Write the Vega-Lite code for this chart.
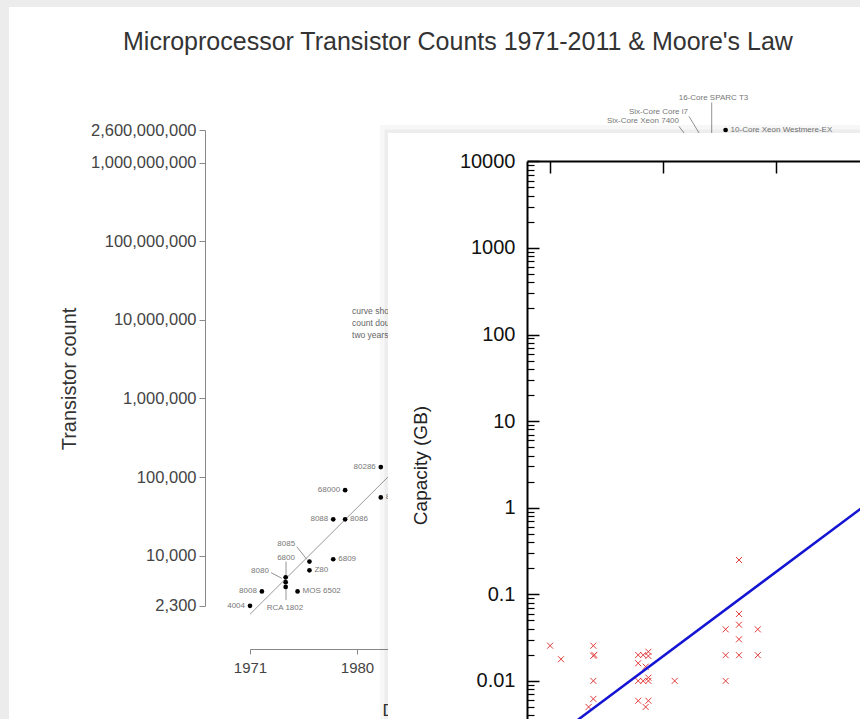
{
  "$schema": "https://vega.github.io/schema/vega-lite/v6.json",
  "width": 851,
  "height": 712,
  "autosize": {"type": "none"},
  "padding": {"left": 9, "top": 7, "right": 0, "bottom": 0},
  "background": "#ececec",
  "config": {
    "view": {"stroke": null, "fill": "#ffffff"},
    "font": "Liberation Sans",
    "axis": {"grid": false}
  },
  "title": {
    "text": "Microprocessor Transistor Counts 1971-2011 & Moore's Law",
    "anchor": "start",
    "frame": "group",
    "fontSize": 25,
    "fontWeight": "normal",
    "color": "#333333",
    "font": "Liberation Sans",
    "baseline": "alphabetic",
    "offset": 0,
    "dx": 114,
    "dy": 68
  },
  "datasets": {
    "chips": [
      {"year": 1971, "count": 2300, "name": "4004", "side": "left"},
      {"year": 1972, "count": 3500, "name": "8008", "side": "left"},
      {"year": 1974, "count": 4000, "name": "", "side": "none"},
      {"year": 1974, "count": 4600, "name": "", "side": "none"},
      {"year": 1974, "count": 5300, "name": "", "side": "none"},
      {"year": 1975, "count": 3500, "name": "MOS 6502", "side": "right"},
      {"year": 1976, "count": 8400, "name": "8085", "side": "none"},
      {"year": 1976, "count": 6500, "name": "Z80", "side": "right"},
      {"year": 1978, "count": 9000, "name": "6809", "side": "right"},
      {"year": 1978, "count": 29000, "name": "8088", "side": "left"},
      {"year": 1979, "count": 29000, "name": "8086", "side": "right"},
      {"year": 1979, "count": 68000, "name": "68000", "side": "left"},
      {"year": 1982, "count": 134000, "name": "80286", "side": "left"},
      {"year": 1982, "count": 55000, "name": "80186", "side": "right"},
      {"year": 1985, "count": 275000, "name": "80386", "side": "left"},
      {"year": 2008, "count": 1900000000, "name": "Six-Core Xeon 7400", "side": "none"},
      {"year": 2010, "count": 1170000000, "name": "Six-Core Core i7", "side": "none"},
      {"year": 2010, "count": 1000000000, "name": "16-Core SPARC T3", "side": "none"},
      {"year": 2011, "count": 2600000000, "name": "10-Core Xeon Westmere-EX", "side": "right"}
    ],
    "callouts": [
      {"year": 1974.05, "count": 14100, "name": "8085", "align": "center"},
      {"year": 1974.03, "count": 9400, "name": "6800", "align": "center"},
      {"year": 1971.84, "count": 6400, "name": "8080", "align": "center"},
      {"year": 1973.94, "count": 2160, "name": "RCA 1802", "align": "center"},
      {"year": 2009.98, "count": 6580000000, "name": "16-Core SPARC T3", "align": "center"},
      {"year": 2007.84, "count": 4370000000, "name": "Six-Core Core i7", "align": "right"},
      {"year": 2007.08, "count": 3340000000, "name": "Six-Core Xeon 7400", "align": "right"}
    ],
    "leaders": [
      {"year": 1974.93, "count": 13000, "year2": 1975.77, "count2": 9000},
      {"year": 1974.03, "count": 8400, "year2": 1974.03, "count2": 5400},
      {"year": 1972.77, "count": 6080, "year2": 1973.67, "count2": 5150},
      {"year": 1974.03, "count": 4030, "year2": 1974.03, "count2": 2730},
      {"year": 2009.83, "count": 5830000000, "year2": 2009.83, "count2": 1000000000},
      {"year": 2007.92, "count": 3880000000, "year2": 2010, "count2": 1170000000},
      {"year": 2007.08, "count": 2890000000, "year2": 2008, "count2": 1900000000}
    ],
    "trend": [
      {"year": 1971, "count": 1795},
      {"year": 2011, "count": 1880000000}
    ],
    "note": [
      {"year": 1979.58, "count": 14700000, "text": "curve shows transistor\ncount doubling every\ntwo years"}
    ],
    "panel": [
      {"t": 1977.86, "gb": 21230, "t2": 2001, "gb2": 0.0005}
    ],
    "fit": [
      {"t": 1984.5, "gb": 0.00162},
      {"t": 2000, "gb": 1.72}
    ],
    "drives": [
      {"t": 1985.02, "gb": 0.0255},
      {"t": 1985.5, "gb": 0.0178},
      {"t": 1986.93, "gb": 0.0255},
      {"t": 1986.93, "gb": 0.0195},
      {"t": 1986.97, "gb": 0.02},
      {"t": 1986.93, "gb": 0.01},
      {"t": 1986.93, "gb": 0.0062},
      {"t": 1986.72, "gb": 0.005},
      {"t": 1988.91, "gb": 0.0199},
      {"t": 1989.13, "gb": 0.0199},
      {"t": 1989.36, "gb": 0.0217},
      {"t": 1989.36, "gb": 0.0194},
      {"t": 1988.91, "gb": 0.016},
      {"t": 1989.24, "gb": 0.0146},
      {"t": 1988.91, "gb": 0.01},
      {"t": 1989.13, "gb": 0.01},
      {"t": 1989.36, "gb": 0.0109},
      {"t": 1989.36, "gb": 0.01},
      {"t": 1988.91, "gb": 0.0059},
      {"t": 1989.36, "gb": 0.0059},
      {"t": 1989.24, "gb": 0.005},
      {"t": 1990.52, "gb": 0.01},
      {"t": 1992.77, "gb": 0.0394},
      {"t": 1992.77, "gb": 0.0198},
      {"t": 1992.77, "gb": 0.01},
      {"t": 1993.36, "gb": 0.249},
      {"t": 1993.36, "gb": 0.0593},
      {"t": 1993.36, "gb": 0.0446},
      {"t": 1993.36, "gb": 0.0302},
      {"t": 1993.36, "gb": 0.0198},
      {"t": 1994.19, "gb": 0.0394},
      {"t": 1994.19, "gb": 0.0198}
    ]
  },
  "layer": [
    {
      "encoding": {
        "x": {
          "field": "year",
          "type": "quantitative",
          "scale": {"domain": [1971, 2011], "range": [241, 716.6], "nice": false, "zero": false},
          "axis": {
            "orient": "bottom",
            "offset": -70,
            "values": [1971, 1980, 1990, 2000, 2011],
            "format": "d",
            "domainColor": "#888888",
            "tickColor": "#888888",
            "tickSize": 5,
            "labelFontSize": 15,
            "labelColor": "#444444",
            "labelPadding": 6,
            "labelFlush": false,
            "labelOverlap": false,
            "title": "Date of introduction",
            "titleFontSize": 17,
            "titleFontWeight": "normal",
            "titleColor": "#333333",
            "titleX": 373,
            "titleY": 61,
            "titleAlign": "left",
            "titleBaseline": "middle",
            "zindex": 0
          }
        },
        "y": {
          "field": "count",
          "type": "quantitative",
          "scale": {"type": "log", "domain": [2300, 2600000000], "range": [598.8, 123], "nice": false},
          "axis": {
            "orient": "left",
            "offset": -196,
            "values": [2300, 10000, 100000, 1000000, 10000000, 100000000, 1000000000, 2600000000],
            "format": ",",
            "domainColor": "#888888",
            "tickColor": "#888888",
            "tickSize": 6,
            "labelPadding": 3,
            "labelFontSize": 16.5,
            "labelColor": "#444444",
            "labelFlush": false,
            "labelOverlap": false,
            "title": "Transistor count",
            "titleFontSize": 20,
            "titleFontWeight": "normal",
            "titleColor": "#333333",
            "titleX": -136,
            "titleY": 371.5,
            "titleAngle": 270,
            "titleAlign": "center",
            "titleBaseline": "middle",
            "zindex": 0
          }
        }
      },
      "layer": [
        {"data": {"name": "trend"}, "mark": {"type": "line", "color": "#999999", "strokeWidth": 1}},
        {
          "data": {"name": "leaders"},
          "mark": {"type": "rule", "color": "#777777", "strokeWidth": 0.8},
          "encoding": {"x2": {"field": "year2"}, "y2": {"field": "count2"}}
        },
        {"data": {"name": "chips"}, "mark": {"type": "circle", "color": "#000000", "opacity": 1, "size": 22}},
        {
          "data": {"name": "chips"},
          "transform": [{"filter": "datum.side === 'left'"}],
          "mark": {"type": "text", "align": "right", "baseline": "middle", "dx": -5, "fontSize": 8, "color": "#777777"},
          "encoding": {"text": {"field": "name"}}
        },
        {
          "data": {"name": "chips"},
          "transform": [{"filter": "datum.side === 'right'"}],
          "mark": {"type": "text", "align": "left", "baseline": "middle", "dx": 5, "fontSize": 8, "color": "#777777"},
          "encoding": {"text": {"field": "name"}}
        },
        {
          "data": {"name": "callouts"},
          "transform": [{"filter": "datum.align === 'center'"}],
          "mark": {"type": "text", "align": "center", "baseline": "middle", "fontSize": 8, "color": "#777777"},
          "encoding": {"text": {"field": "name"}}
        },
        {
          "data": {"name": "callouts"},
          "transform": [{"filter": "datum.align === 'right'"}],
          "mark": {"type": "text", "align": "right", "baseline": "middle", "fontSize": 8, "color": "#777777"},
          "encoding": {"text": {"field": "name"}}
        },
        {
          "data": {"name": "note"},
          "mark": {"type": "text", "align": "left", "baseline": "top", "fontSize": 8.5, "lineHeight": 12, "lineBreak": "\n", "color": "#666666"},
          "encoding": {"text": {"field": "text"}}
        }
      ]
    },
    {
      "encoding": {
        "x": {
          "field": "t",
          "type": "quantitative",
          "scale": {"domain": [1984, 2000], "range": [518, 880.4], "nice": false, "zero": false},
          "axis": {
            "orient": "top",
            "offset": -154,
            "values": [1985, 1990, 1995, 2000],
            "labels": false,
            "tickSize": -12,
            "tickColor": "#000000",
            "tickWidth": 1.5,
            "domainColor": "#000000",
            "domainWidth": 2,
            "title": null,
            "zindex": 2
          }
        }
      },
      "layer": [
        {
          "data": {"name": "panel"},
          "mark": {"type": "rect", "fillOpacity": 0, "stroke": "#000000", "strokeOpacity": 0.03, "strokeWidth": 16},
          "encoding": {
            "x2": {"field": "t2"},
            "y": {"field": "gb", "type": "quantitative", "scale": {"type": "log", "domain": [0.001, 10000], "range": [760.5, 154.3], "nice": false}, "axis": null},
            "y2": {"field": "gb2"}
          }
        },
        {
          "data": {"name": "panel"},
          "mark": {"type": "rect", "fillOpacity": 0, "stroke": "#000000", "strokeOpacity": 0.04, "strokeWidth": 7},
          "encoding": {
            "x2": {"field": "t2"},
            "y": {"field": "gb", "type": "quantitative", "scale": {"type": "log", "domain": [0.001, 10000], "range": [760.5, 154.3], "nice": false}, "axis": null},
            "y2": {"field": "gb2"}
          }
        },
        {
          "data": {"name": "panel"},
          "mark": {"type": "rect", "fill": "#ffffff", "opacity": 1, "stroke": null},
          "encoding": {
            "x2": {"field": "t2"},
            "y": {"field": "gb", "type": "quantitative", "scale": {"type": "log", "domain": [0.001, 10000], "range": [760.5, 154.3], "nice": false}, "axis": null},
            "y2": {"field": "gb2"}
          }
        },
        {
          "data": {"name": "drives"},
          "mark": {"type": "point", "shape": "M-1,-1L1,1M-1,1L1,-1", "filled": false, "color": "#e23b3b", "size": 36, "strokeWidth": 1, "opacity": 1},
          "encoding": {
            "y": {
              "field": "gb",
              "type": "quantitative",
              "scale": {"type": "log", "domain": [0.001, 10000], "range": [760.5, 154.3], "nice": false},
              "axis": {
                "orient": "left",
                "offset": -518,
                "values": [0.001, 0.01, 0.1, 1, 10, 100, 1000, 10000],
                "format": "~g",
                "tickSize": -12,
                "tickColor": "#000000",
                "tickWidth": 1.5,
                "domainColor": "#000000",
                "domainWidth": 2,
                "labelPadding": 24,
                "labelFontSize": 20,
                "labelColor": "#111111",
                "labelFlush": false,
                "labelOverlap": false,
                "title": "Capacity (GB)",
                "titleFontSize": 19,
                "titleFontWeight": "normal",
                "titleColor": "#222222",
                "titleX": -107,
                "titleY": 458,
                "titleAngle": 270,
                "titleAlign": "center",
                "titleBaseline": "middle",
                "zindex": 2
              }
            }
          }
        },
        {
          "data": {"name": "fit"},
          "mark": {"type": "line", "color": "#1414d2", "strokeWidth": 2.5},
          "encoding": {
            "y": {
              "field": "gb",
              "type": "quantitative",
              "scale": {"type": "log", "domain": [0.001, 10000], "range": [760.5, 154.3], "nice": false},
              "axis": {
                "orient": "left",
                "offset": -518,
                "values": [0.002, 0.003, 0.004, 0.005, 0.006, 0.007, 0.008, 0.009, 0.02, 0.03, 0.04, 0.05, 0.06, 0.07, 0.08, 0.09, 0.2, 0.3, 0.4, 0.5, 0.6, 0.7, 0.8, 0.9, 2, 3, 4, 5, 6, 7, 8, 9, 20, 30, 40, 50, 60, 70, 80, 90, 200, 300, 400, 500, 600, 700, 800, 900, 2000, 3000, 4000, 5000, 6000, 7000, 8000, 9000],
                "labels": false,
                "domain": false,
                "tickSize": -7,
                "tickColor": "#000000",
                "tickWidth": 1.2,
                "title": null,
                "zindex": 2
              }
            }
          }
        }
      ],
      "resolve": {"axis": {"y": "independent"}}
    }
  ],
  "resolve": {
    "scale": {"x": "independent", "y": "independent"},
    "axis": {"x": "independent", "y": "independent"}
  }
}
